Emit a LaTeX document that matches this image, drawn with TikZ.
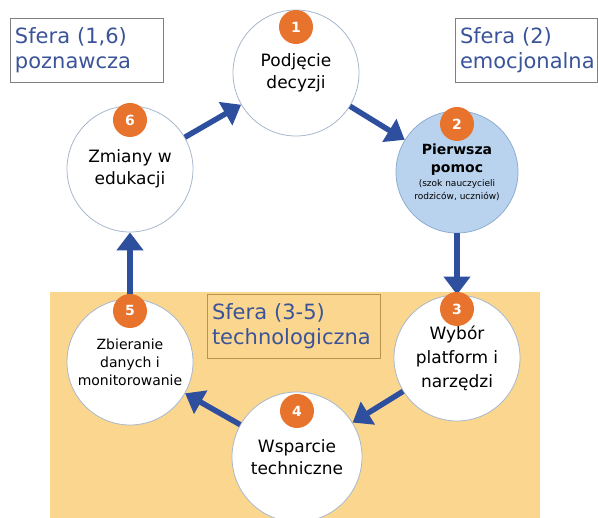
\documentclass[tikz,border=0pt]{standalone}
\usepackage{fontspec}
\setmainfont{DejaVu Sans}
\usetikzlibrary{arrows.meta}
\definecolor{sferablue}{HTML}{3B5499}
\definecolor{arrowblue}{HTML}{2E4F9E}
\definecolor{techorange}{HTML}{FBD68F}
\definecolor{techbrown}{HTML}{B8944F}
\definecolor{badgeorange}{HTML}{E8732D}
\definecolor{ringgray}{HTML}{A8B8CC}
\definecolor{helpblue}{HTML}{B9D3EE}
\definecolor{helpring}{HTML}{8EADD3}

\tikzset{
  stage/.style={circle, draw=ringgray, line width=0.8pt, fill=white, minimum size=126pt,
    inner sep=0pt, align=center, font=\fontsize{17}{22}\selectfont},
  badge/.style={circle, fill=badgeorange, minimum size=34pt, inner sep=0pt, text=white,
    font=\fontsize{14}{14}\selectfont\bfseries},
  sfera/.style={draw=gray, line width=0.8pt, align=left, text=sferablue, inner xsep=5pt,
    minimum height=64pt, font=\fontsize{21}{25}\selectfont},
  flow/.style={draw=arrowblue, line width=5.5pt, -{Triangle[length=18pt,width=26pt]}},
}

\begin{document}
\begin{tikzpicture}[x=1pt, y=1pt]
\useasboundingbox (0,0) rectangle (598,518);

% technological sphere background
\fill[techorange] (50,0) rectangle (540,226);
\node[sfera, draw=techbrown, text width=163pt] (sfera35) at (293.5,191.5) {Sfera (3-5)\\technologiczna};

% stages
\node[stage] (c1) at (296,445) {Podjęcie\\decyzji};
\node[stage, fill=helpblue, draw=helpring, minimum size=122pt, font=\fontsize{14}{18}\selectfont\bfseries] (c2) at (457,346)
  {Pierwsza\\pomoc\\[-4pt]{\mdseries\fontsize{9}{11}\selectfont(szok nauczycieli}\\[-5pt]{\mdseries\fontsize{9}{11}\selectfont rodziców, uczniów)}};
\node[stage, font=\fontsize{17}{24}\selectfont] (c3) at (457,160) {\\[-10pt]Wybór\\platform i\\narzędzi};
\node[stage, minimum size=130pt] (c4) at (297,61) {Wsparcie\\techniczne};
\node[stage, font=\fontsize{14}{18}\selectfont] (c5) at (130,156) {Zbieranie\\danych i\\monitorowanie};
\node[stage] (c6) at (130,349) {Zmiany w\\edukacji};

% cycle
\draw[flow] (c6) -- (c1);
\draw[flow] (c1) -- (c2);
\draw[flow] (c2) -- (c3);
\draw[flow] (c3) -- (c4);
\draw[flow] (c4) -- (c5);
\draw[flow] (c5) -- (c6);

% numbers
\node[badge] (n1) at ([yshift=46pt]c1.center) {1};
\node[badge] (n2) at ([yshift=48pt]c2.center) {2};
\node[badge] (n3) at ([yshift=49pt]c3.center) {3};
\node[badge] (n4) at ([yshift=46pt]c4.center) {4};
\node[badge] (n5) at ([yshift=51pt]c5.center) {5};
\node[badge] (n6) at ([yshift=49pt]c6.center) {6};

% other spheres
\node[sfera, text width=143pt] (sfera16) at (86.5,468) {Sfera (1,6)\\poznawcza};
\node[sfera, text width=132pt] (sfera2) at (526,468) {Sfera (2)\\emocjonalna};
\end{tikzpicture}
\end{document}
